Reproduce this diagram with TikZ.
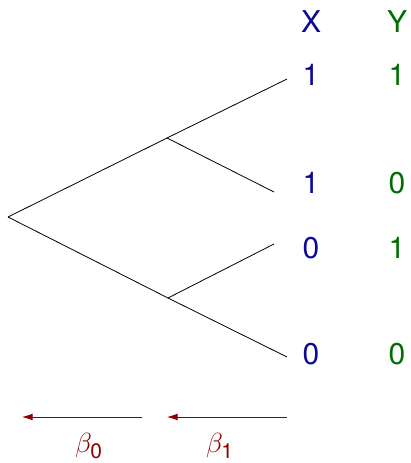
\documentclass[tikz,border=0pt]{standalone}
\usepackage{fontspec}
\setmainfont{TeX Gyre Heros}
\setsansfont{TeX Gyre Heros}
\usetikzlibrary{arrows.meta}
\definecolor{xcol}{RGB}{10,10,150}
\definecolor{ycol}{RGB}{0,110,0}
\definecolor{bcol}{RGB}{140,0,0}

\begin{document}
\begin{tikzpicture}[
  x=0.75pt,y=-0.75pt,
  font=\fontsize{22.5}{27}\selectfont,
  branch/.style={draw,line width=0.6pt},
  xlab/.style={text=xcol,inner sep=0pt},
  ylab/.style={text=ycol,inner sep=0pt},
  back/.style={draw=bcol,line width=0.6pt,-{Latex[length=2.8mm,width=1.8mm]}},
  blab/.style={text=bcol,inner sep=0pt}]
\useasboundingbox (0,0) rectangle (410,463);
% tree
\coordinate (root) at (8,217);
\coordinate (up) at (167,138);
\coordinate (lo) at (168,298);
\coordinate (l1) at (287,79);
\coordinate (l2) at (274,192);
\coordinate (l3) at (274,244);
\coordinate (l4) at (287,357);
\foreach \a/\b in {root/up,root/lo,up/l1,up/l2,lo/l3,lo/l4} \draw[branch] (\a)--(\b);
% columns
\node[xlab] (hx) at (311,22) {X};
\node[ylab] (hy) at (397,22) {Y};
\foreach \n/\y/\xv/\yv in {r1/75/1/1,r2/183/1/0,r3/248/0/1,r4/354/0/0} {
  \node[xlab] (x\n) at (311,\y) {\xv};
  \node[ylab] (y\n) at (397,\y) {\yv};
}
% coefficients
\coordinate (a0s) at (142,417);
\coordinate (a0e) at (22,417);
\coordinate (a1s) at (287,417);
\coordinate (a1e) at (167,417);
\draw[back] (a0s)--(a0e);
\draw[back] (a1s)--(a1e);
\node[blab] (b0) at (89,446) {$\beta_{\mathsf{0}}$};
\node[blab] (b1) at (220,446) {$\beta_{\mathsf{1}}$};
\end{tikzpicture}
\end{document}
